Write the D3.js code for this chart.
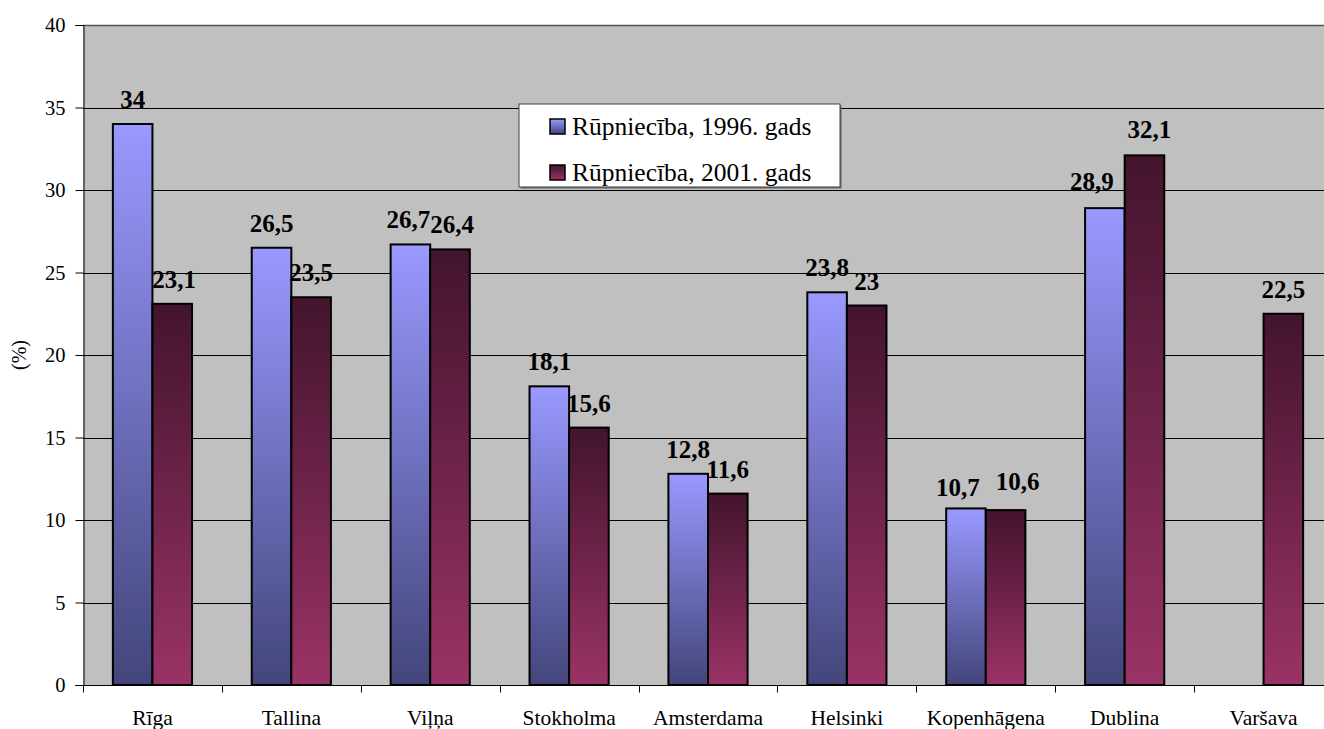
<!DOCTYPE html>
<html>
<head>
<meta charset="utf-8">
<script src="https://cdn.jsdelivr.net/npm/d3@7"></script>
<style>
  body { margin: 0; background: #fff; }
  text { font-family: "Liberation Serif", "Times New Roman", serif; fill: #000; }
  .y-axis .tick text { font-size: 20.5px; }
  .x-axis .tick text { font-size: 21.5px; }
  .value { font-size: 25px; font-weight: bold; }
  .legend { font-size: 25.5px; }
</style>
</head>
<body>
<div id="chart"></div>
<script>
const width = 1324;
const height = 729;

const cities = ["Rīga", "Tallina", "Viļņa", "Stokholma", "Amsterdama", "Helsinki", "Kopenhāgena", "Dublina", "Varšava"];
const series = ["Rūpniecība, 1996. gads", "Rūpniecība, 2001. gads"];
const values1996 = [34, 26.5, 26.7, 18.1, 12.8, 23.8, 10.7, 28.9, null];
const values2001 = [23.1, 23.5, 26.4, 15.6, 11.6, 23, 10.6, 32.1, 22.5];
const yTicks = [0, 5, 10, 15, 20, 25, 30, 35, 40];

// hand-dragged data labels in the original (pixel nudges: [dx, gap above bar])
const labelNudge = {
   "Kopenhāgena|0": [-8, 12],
   "Kopenhāgena|1": [12, 20],
   "Dublina|0": [-13, 18],
   "Dublina|1": [5, 17],
   "Viļņa|0": [-2, 16],
   "Viļņa|1": [2, 16],
   "Rīga|1": [2, 16]
};

const margin = {top: 25, right: -9, bottom: 44, left: 83};

const svg = d3.select("#chart").append("svg")
   .attr("width", width)
   .attr("height", height);

// gradients, one per series (per bar bounding box)
const defs = svg.append("defs");
const grads = [
   {id: "g1996", top: "#9999ff", bottom: "#43457a"},
   {id: "g2001", top: "#43142d", bottom: "#9a3366"}
];
grads.forEach(g => {
   const lg = defs.append("linearGradient")
      .attr("id", g.id)
      .attr("x1", 0).attr("y1", 0).attr("x2", 0).attr("y2", 1);
   lg.append("stop").attr("offset", "0%").attr("stop-color", g.top);
   lg.append("stop").attr("offset", "100%").attr("stop-color", g.bottom);
});

const x = d3.scaleBand()
   .domain(cities)
   .range([margin.left, width - margin.right]);

const y = d3.scaleLinear()
   .domain([0, 40])
   .range([height - margin.bottom, margin.top]);

const barW = x.bandwidth() * 0.285;
const groupOff = (x.bandwidth() - 2 * barW) / 2;

// plot background
svg.append("rect")
   .attr("x", margin.left)
   .attr("y", margin.top)
   .attr("width", width - margin.right - margin.left)
   .attr("height", y(0) - margin.top)
   .style("fill", "#c0c0c0");

// gridlines
svg.append("g")
   .selectAll("line")
   .data(yTicks.filter(d => d > 0))
   .enter()
   .append("line")
   .attr("x1", margin.left)
   .attr("x2", width - margin.right)
   .attr("y1", d => Math.round(y(d)) + 0.5)
   .attr("y2", d => Math.round(y(d)) + 0.5)
   .style("stroke", d => d === 40 ? "#555" : "#000")
   .style("stroke-width", d => d === 40 ? 1.5 : 1);

// y axis
const yAxis = svg.append("g")
   .attr("class", "y-axis")
   .attr("transform", `translate(${margin.left + 0.5},0)`)
   .call(d3.axisLeft(y).tickValues(yTicks).tickSize(8).tickPadding(10).tickFormat(d3.format("d")));
yAxis.select(".domain").style("stroke", "#000");

// x axis (ticks at category boundaries)
const xAxis = svg.append("g")
   .attr("class", "x-axis")
   .attr("transform", `translate(0,${Math.round(y(0)) + 0.5})`)
   .call(d3.axisBottom(x).tickSize(0).tickPadding(24));
xAxis.select(".domain").style("stroke", "#000").attr("d", `M${margin.left},0H${width}`);
xAxis.selectAll(".boundary")
   .data(cities)
   .enter()
   .append("line")
   .attr("class", "boundary")
   .attr("x1", d => Math.round(x(d)) + 0.5)
   .attr("x2", d => Math.round(x(d)) + 0.5)
   .attr("y1", 0)
   .attr("y2", 7)
   .style("stroke", "#000");

// y title
svg.append("text")
   .attr("transform", `translate(26,${y(20)}) rotate(-90)`)
   .attr("text-anchor", "middle")
   .style("font-size", "20px")
   .text("(%)");

// bars
const allSeries = [values1996, values2001];
allSeries.forEach((vals, si) => {
   const data = cities.map((c, i) => ({city: c, value: vals[i]})).filter(d => d.value !== null);
   const nudge = d => labelNudge[d.city + "|" + si] || [0, 16];

   svg.append("g")
      .selectAll("rect")
      .data(data)
      .enter()
      .append("rect")
      .attr("x", d => x(d.city) + groupOff + si * barW)
      .attr("y", d => y(d.value))
      .attr("width", barW)
      .attr("height", d => y(0) - y(d.value))
      .style("fill", `url(#${grads[si].id})`)
      .style("stroke", "#000")
      .style("stroke-width", 2);

   svg.append("g")
      .selectAll("text")
      .data(data)
      .enter()
      .append("text")
      .attr("class", "value")
      .attr("x", d => x(d.city) + groupOff + si * barW + barW / 2 + nudge(d)[0])
      .attr("y", d => y(d.value) - nudge(d)[1])
      .attr("text-anchor", "middle")
      .text(d => String(d.value).replace(".", ","));
});

// legend
const lg = svg.append("g").attr("transform", "translate(519,104)");
lg.append("rect")
   .attr("x", 1.5).attr("y", 1.5)
   .attr("width", 321).attr("height", 83)
   .style("fill", "#666");
lg.append("rect")
   .attr("width", 321).attr("height", 83)
   .style("fill", "#fff")
   .style("stroke", "#444")
   .style("stroke-width", 1);
series.forEach((s, i) => {
   lg.append("rect")
      .attr("x", 31).attr("y", 15 + i * 46)
      .attr("width", 15).attr("height", 15)
      .style("fill", `url(#${grads[i].id})`)
      .style("stroke", "#000")
      .style("stroke-width", 1.5);
   lg.append("text")
      .attr("class", "legend")
      .attr("x", 53).attr("y", 31 + i * 46)
      .text(s);
});
</script>
</body>
</html>
